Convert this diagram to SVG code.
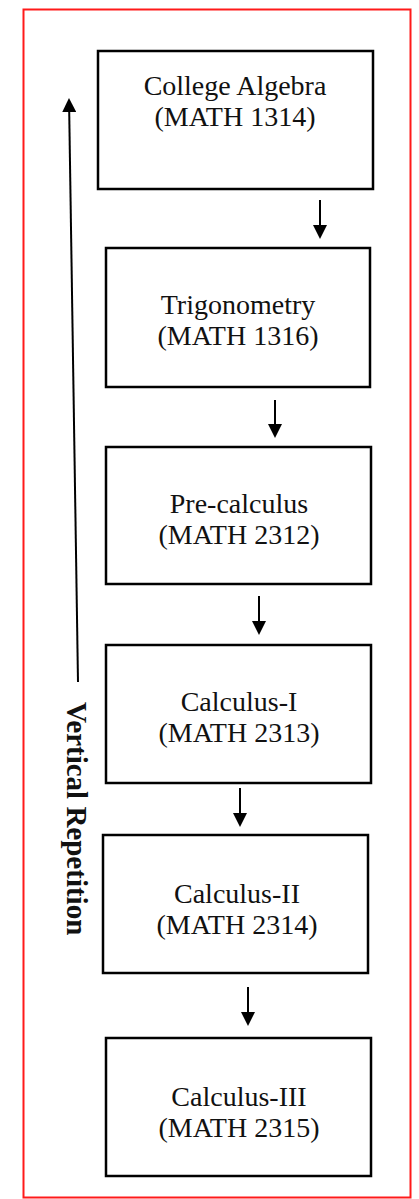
<svg xmlns="http://www.w3.org/2000/svg" width="419" height="1199" viewBox="0 0 419 1199">
  <style>
    .frame { fill: none; stroke: #ff1a1a; stroke-width: 2; }
    .box { fill: #ffffff; stroke: #000000; stroke-width: 2.5; }
    .lbl { font-family: "Liberation Serif", "Times New Roman", serif; font-size: 28px; fill: #111111; text-anchor: middle; }
    .side { font-family: "Liberation Serif", "Times New Roman", serif; font-size: 29px; font-weight: bold; fill: #111111; }
    .conn { stroke: #000000; stroke-width: 2; fill: none; }
  </style>
  <defs>
    <marker id="arrow" viewBox="0 0 14 14" refX="4" refY="7" markerWidth="14" markerHeight="14" markerUnits="userSpaceOnUse" orient="auto">
      <path d="M0,0 L14,7 L0,14 z" fill="#000000"/>
    </marker>
  </defs>
  <rect class="frame" x="23.5" y="9.5" width="387" height="1188"/>
  <g id="n1">
    <rect class="box" x="98" y="51" width="275" height="138"/>
    <text class="lbl" x="235" y="95">College Algebra</text>
    <text class="lbl" x="235" y="126">(MATH 1314)</text>
  </g>
  <g id="n2">
    <rect class="box" x="106" y="248" width="264" height="139"/>
    <text class="lbl" x="238" y="314">Trigonometry</text>
    <text class="lbl" x="238" y="345">(MATH 1316)</text>
  </g>
  <g id="n3">
    <rect class="box" x="106" y="447" width="265" height="137"/>
    <text class="lbl" x="239" y="513">Pre-calculus</text>
    <text class="lbl" x="239" y="544">(MATH 2312)</text>
  </g>
  <g id="n4">
    <rect class="box" x="106" y="645" width="265" height="138"/>
    <text class="lbl" x="239" y="711">Calculus-I</text>
    <text class="lbl" x="239" y="742">(MATH 2313)</text>
  </g>
  <g id="n5">
    <rect class="box" x="103" y="835" width="265" height="138"/>
    <text class="lbl" x="237" y="903">Calculus-II</text>
    <text class="lbl" x="237" y="934">(MATH 2314)</text>
  </g>
  <g id="n6">
    <rect class="box" x="106" y="1038" width="265" height="138"/>
    <text class="lbl" x="239" y="1106">Calculus-III</text>
    <text class="lbl" x="239" y="1137">(MATH 2315)</text>
  </g>
  <g id="connectors">
    <line class="conn" x1="320" y1="200" x2="320" y2="229" marker-end="url(#arrow)"/>
    <line class="conn" x1="275" y1="400" x2="275" y2="428" marker-end="url(#arrow)"/>
    <line class="conn" x1="259" y1="596" x2="259" y2="625" marker-end="url(#arrow)"/>
    <line class="conn" x1="240" y1="788" x2="240" y2="817" marker-end="url(#arrow)"/>
    <line class="conn" x1="248" y1="987" x2="248" y2="1016" marker-end="url(#arrow)"/>
    <line class="conn" x1="78" y1="682" x2="69.15" y2="108" marker-end="url(#arrow)"/>
  </g>
  <g id="side-label">
    <text class="side" transform="translate(67,702) rotate(90)">Vertical Repetition</text>
  </g>
</svg>
